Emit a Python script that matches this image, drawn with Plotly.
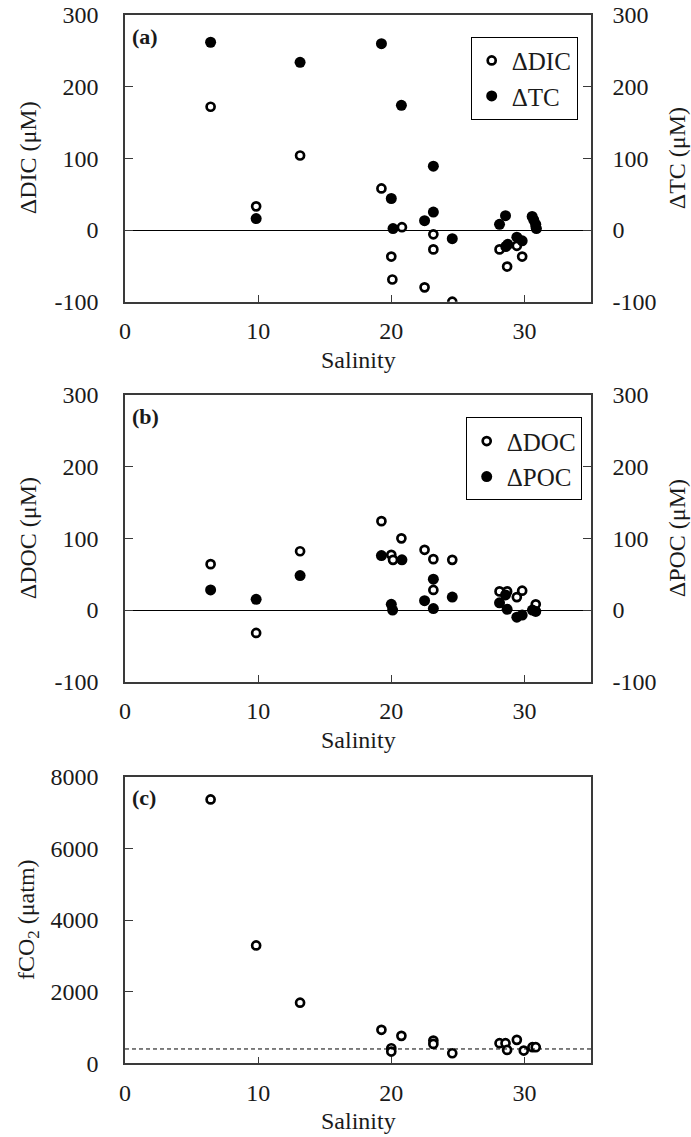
import plotly.graph_objects as go

# ---------------- data ----------------
# Panel (a)
dic_sal = [6.43, 9.85, 13.15, 19.26, 20.8, 23.16, 23.16, 20.0, 20.08, 22.5, 24.58, 28.13, 28.7, 29.43, 29.83, 30.85]
dic_val = [172, 33, 104, 58, 4, -6, -27, -37, -69, -80, -100, -27, -51, -22, -37, 5]
tc_sal = [6.43, 9.85, 13.15, 19.26, 20.76, 23.16, 20.0, 23.16, 22.5, 20.13, 24.58, 28.58, 28.13, 30.58, 30.7, 30.85, 30.9, 29.43, 29.83, 28.6, 28.75]
tc_val = [262, 16, 234, 260, 174, 89, 44, 25, 13, 2, -12, 20, 8, 19, 14, 8, 2, -10, -15, -23, -20]

# Panel (b)
doc_sal = [6.43, 9.85, 13.15, 19.26, 20.76, 20.0, 20.13, 22.5, 23.16, 24.58, 23.16, 28.13, 28.7, 29.83, 29.43, 30.85]
doc_val = [64, -32, 82, 124, 100, 77, 70, 84, 71, 70, 28, 26, 26, 27, 18, 8]
poc_sal = [6.43, 9.85, 13.15, 19.26, 20.8, 23.16, 22.5, 24.58, 23.16, 20.0, 20.1, 28.13, 28.58, 28.7, 29.43, 29.83, 30.6, 30.85]
poc_val = [28, 15, 48, 76, 70, 43, 13, 18, 2, 8, 0, 10, 21, 1, -10, -7, 0, -2]

# Panel (c)
fco2_sal = [6.43, 9.85, 13.15, 19.26, 20.76, 20.0, 20.0, 23.16, 23.16, 24.58, 28.13, 28.58, 28.7, 29.43, 29.95, 30.6, 30.85]
fco2_val = [7366, 3290, 1691, 934, 766, 420, 327, 635, 541, 280, 561, 561, 373, 654, 355, 449, 449]
atm_fco2 = 400

sal_ticks = [0, 10, 20, 30]
sal_labels = ["0", "10", "20", "30"]
delta_ticks = [-100, 0, 100, 200, 300]
delta_labels = ["-100", "0", "100", "200", "300"]
fco2_ticks = [0, 2000, 4000, 6000, 8000]
fco2_labels = ["0", "2000", "4000", "6000", "8000"]

# ---------------- style ----------------
FONT = "Times New Roman, Liberation Serif, serif"
TXT = "#1a1a1a"
LINE = "#3a3a3a"
W, H = 691, 1137
FS = 24

def px_x(p):
    return p / W

def px_y(p):
    return 1 - p / H

xdom = [px_x(125), px_x(591)]
dom_a = [px_y(301.7), px_y(15)]
dom_b = [px_y(681.7), px_y(395)]
dom_c = [px_y(1063.3), px_y(776.7)]

open_marker = dict(symbol="circle", size=8, color="white", line=dict(color="black", width=2.7))
fill_marker = dict(symbol="circle", size=11, color="black", line=dict(color="black", width=0))

fig = go.Figure()
fig.add_trace(go.Scatter(x=dic_sal, y=dic_val, mode="markers", marker=open_marker,
                         name="ΔDIC", xaxis="x", yaxis="y", legend="legend"))
fig.add_trace(go.Scatter(x=tc_sal, y=tc_val, mode="markers", marker=fill_marker,
                         name="ΔTC", xaxis="x", yaxis="y2", legend="legend"))
fig.add_trace(go.Scatter(x=doc_sal, y=doc_val, mode="markers", marker=open_marker,
                         name="ΔDOC", xaxis="x2", yaxis="y3", legend="legend2"))
fig.add_trace(go.Scatter(x=poc_sal, y=poc_val, mode="markers", marker=fill_marker,
                         name="ΔPOC", xaxis="x2", yaxis="y4", legend="legend2"))
fig.add_trace(go.Scatter(x=fco2_sal, y=fco2_val, mode="markers", marker=open_marker,
                         name="fCO2", xaxis="x3", yaxis="y5", showlegend=False))

tickfont = dict(family=FONT, size=FS, color=TXT)

def xax(anchor):
    return dict(domain=xdom, anchor=anchor, range=[0, 35], tickvals=sal_ticks, ticktext=sal_labels,
                ticks="inside", ticklen=7, tickwidth=1.2, tickcolor=LINE, automargin=False,
                showline=True, linecolor=LINE, linewidth=1.5, mirror=True,
                showgrid=False, zeroline=False, tickfont=tickfont, ticklabelstandoff=7)

def yax(anchor, dom, rng, tv, tt, side="left", overlay=None, zero=False):
    d = dict(anchor=anchor, range=rng, tickvals=tv, ticktext=tt, side=side,
             ticks="inside", ticklen=8, tickwidth=1.2, tickcolor=LINE, automargin=False,
             showline=True, linecolor=LINE, linewidth=1.5, mirror=(overlay is None),
             showgrid=False, zeroline=zero, zerolinecolor="black", zerolinewidth=1.2,
             tickfont=tickfont, ticklabelstandoff=(20 if side == "left" else 15))
    if overlay is None:
        d["domain"] = dom
    else:
        d["overlaying"] = overlay
    return d

legfont = dict(family=FONT, size=25, color=TXT)

fig.update_layout(
    template="none",
    width=W, height=H, autosize=False,
    margin=dict(l=0, r=0, t=0, b=0, pad=0),
    paper_bgcolor="white", plot_bgcolor="white",
    font=dict(family=FONT, size=FS, color=TXT),
    xaxis=xax("y"),
    yaxis=yax("x", dom_a, [-100, 300], delta_ticks, delta_labels, zero=True),
    yaxis2=yax("x", dom_a, [-100, 300], delta_ticks, delta_labels, side="right", overlay="y"),
    xaxis2=xax("y3"),
    yaxis3=yax("x2", dom_b, [-100, 300], delta_ticks, delta_labels, zero=True),
    yaxis4=yax("x2", dom_b, [-100, 300], delta_ticks, delta_labels, side="right", overlay="y3"),
    xaxis3=xax("y5"),
    yaxis5=yax("x3", dom_c, [0, 8000], fco2_ticks, fco2_labels),
    legend=dict(x=px_x(470.7), y=px_y(36.7), xanchor="left", yanchor="top",
                bordercolor="black", borderwidth=1, bgcolor="white",
                font=legfont, itemwidth=30, tracegroupgap=0),
    legend2=dict(x=px_x(465.7), y=px_y(417.3), xanchor="left", yanchor="top",
                 bordercolor="black", borderwidth=1, bgcolor="white",
                 font=legfont, itemwidth=30, tracegroupgap=0),
    showlegend=True,
)

# reference line (atmospheric fCO2)
fig.add_shape(type="line", xref="x3 domain", x0=0, x1=1, yref="y5", y0=atm_fco2, y1=atm_fco2,
              line=dict(color="black", width=1, dash="4px,3px"))

def ann(text, x, y, angle=0, size=FS, bold=False, xanchor="center"):
    fig.add_annotation(text=f"<b>{text}</b>" if bold else text, x=x, y=y, xref="paper", yref="paper",
                       showarrow=False, textangle=angle, xanchor=xanchor, yanchor="middle",
                       font=dict(family=FONT, size=size, color=TXT))

# axis titles
ann("ΔDIC (μM)", px_x(28), px_y(158.3), angle=-90)
ann("ΔTC (μM)", px_x(677), px_y(158.3), angle=-90)
ann("ΔDOC (μM)", px_x(28), px_y(538.3), angle=-90)
ann("ΔPOC (μM)", px_x(677), px_y(538.3), angle=-90)
ann("fCO<sub>2</sub> (μatm)", px_x(28), px_y(920), angle=-90)
ann("Salinity", px_x(358), px_y(360))
ann("Salinity", px_x(358), px_y(740))
ann("Salinity", px_x(358), px_y(1121))

# panel letters
ann("(a)", px_x(130), px_y(36), size=22, bold=True, xanchor="left")
ann("(b)", px_x(130), px_y(416.5), size=22, bold=True, xanchor="left")
ann("(c)", px_x(130), px_y(797.5), size=22, bold=True, xanchor="left")

fig.write_html("out.html")
